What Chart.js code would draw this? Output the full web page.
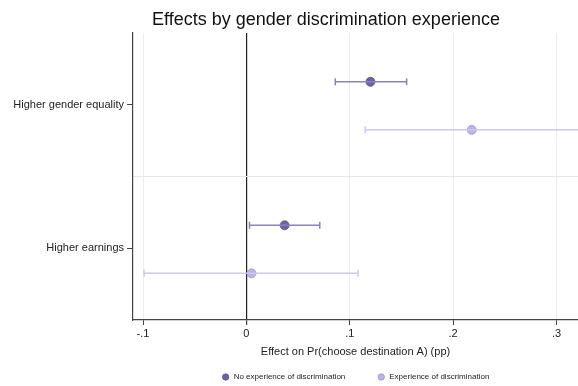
<!DOCTYPE html>
<html>
<head>
<meta charset="utf-8">
<script src="https://cdn.jsdelivr.net/npm/chart.js@4"></script>
<style>
  html, body { margin: 0; padding: 0; background: #fff; }
  #wrap { position: relative; width: 578px; height: 386px; }
  #title {
    position: absolute; left: 0; top: 9px; width: 652px; text-align: center;
    font-family: "Liberation Sans", Arial, sans-serif; font-size: 18px; color: #111;
  }
</style>
</head>
<body>
<div id="wrap">
  <canvas id="chart" width="578" height="386"></canvas>
  <div id="title">Effects by gender discrimination experience</div>
</div>
<script>
const categories = ["Higher gender equality", "Higher earnings"];
const categoryPos = [1, 3];
const seriesNames = ["No experience of discrimination", "Experience of discrimination"];
const seriesOffset = [-0.32, 0.35];
// point estimates and confidence bounds, per category
const noExpEst = [0.120, 0.037];
const noExpLo = [0.086, 0.003];
const noExpHi = [0.155, 0.071];
const expEst = [0.218, 0.005];
const expLo = [0.115, -0.099];
const expHi = [0.322, 0.108];
const xTicks = [-0.1, 0, 0.1, 0.2, 0.3];
const xTickLabels = ["-.1", "0", ".1", ".2", ".3"];

const colors = [
  { point: "#6e62a0", border: "#5f5592", line: "#8a81bd" },
  { point: "#bbb5e3", border: "#9f98cc", line: "#cdc8f3" },
];

const series = [
  { est: noExpEst, lo: noExpLo, hi: noExpHi },
  { est: expEst, lo: expLo, hi: expHi },
];

const datasets = [];
series.forEach((s, si) => {
  categories.forEach((c, ci) => {
    const y = categoryPos[ci] + seriesOffset[si];
    datasets.push({
      type: "line",
      label: "ci",
      data: [{ x: s.lo[ci], y }, { x: s.hi[ci], y }],
      borderColor: colors[si].line,
      borderWidth: 1.5,
      pointStyle: "line",
      rotation: 90,
      pointRadius: 3.5,
      pointBorderColor: colors[si].line,
      pointBorderWidth: 1.5,
      pointHoverRadius: 0,
      clip: true,
    });
  });
});
series.forEach((s, si) => {
  datasets.push({
    type: "scatter",
    label: seriesNames[si],
    data: s.est.map((v, ci) => ({ x: v, y: categoryPos[ci] + seriesOffset[si] })),
    backgroundColor: colors[si].point,
    borderColor: colors[si].border,
    borderWidth: 0.8,
    pointRadius: 4.5,
    pointStyle: "circle",
  });
});

new Chart(document.getElementById("chart"), {
  type: "scatter",
  data: { datasets },
  options: {
    responsive: false,
    animation: false,
    layout: { autoPadding: false, padding: { top: 33, left: 0, right: 0, bottom: 0 } },
    plugins: {
      tooltip: { enabled: false },
      legend: {
        position: "bottom",
        fullSize: false,
        maxHeight: 45,
        labels: {
          filter: (item) => item.text !== "ci",
          usePointStyle: true,
          pointStyle: "circle",
          boxWidth: 8,
          boxHeight: 4.5,
          padding: 32,
          color: "#222",
          font: { family: "Liberation Sans, Arial, sans-serif", size: 8 },
        },
      },
    },
    scales: {
      x: {
        type: "linear",
        min: -0.1097,
        max: 0.3208,
        afterBuildTicks: (scale) => {
          scale.ticks = xTicks.map((v) => ({ value: v }));
        },
        afterFit: (scale) => {
          scale.height = 21;
          scale.paddingLeft = 0;
          scale.paddingRight = 0;
        },
        ticks: {
          callback: (v, i) => xTickLabels[i],
          color: "#222",
          padding: 2,
          maxRotation: 0,
          font: { family: "Liberation Sans, Arial, sans-serif", size: 11 },
        },
        grid: {
          color: (ctx) => (ctx.tick && ctx.tick.value === 0 ? "#222" : "#eeeeee"),
          lineWidth: (ctx) => (ctx.tick && ctx.tick.value === 0 ? 1.2 : 1),
          tickColor: "#444",
          tickLength: 5,
        },
        border: { color: "#444", width: 1.2 },
        title: {
          display: true,
          text: "Effect on Pr(choose destination A) (pp)",
          color: "#222",
          padding: { top: 0, bottom: -18 },
          font: { family: "Liberation Sans, Arial, sans-serif", size: 11 },
        },
      },
      y: {
        type: "linear",
        min: 0,
        max: 4,
        reverse: true,
        afterBuildTicks: (scale) => {
          scale.ticks = [1, 2, 3].map((v) => ({ value: v }));
        },
        afterFit: (scale) => { scale.width = 133; },
        ticks: {
          callback: (v) => (v === 1 ? categories[0] : v === 3 ? categories[1] : ""),
          color: "#222",
          padding: 3,
          font: { family: "Liberation Sans, Arial, sans-serif", size: 11 },
        },
        grid: {
          color: (ctx) => (ctx.tick && ctx.tick.value === 2 ? "#e8e8e8" : "rgba(0,0,0,0)"),
          tickColor: (ctx) => (ctx.tick && ctx.tick.value === 2 ? "rgba(0,0,0,0)" : "#444"),
          tickLength: 6,
        },
        border: { color: "#444", width: 1.2 },
      },
    },
  },
});
</script>
</body>
</html>
